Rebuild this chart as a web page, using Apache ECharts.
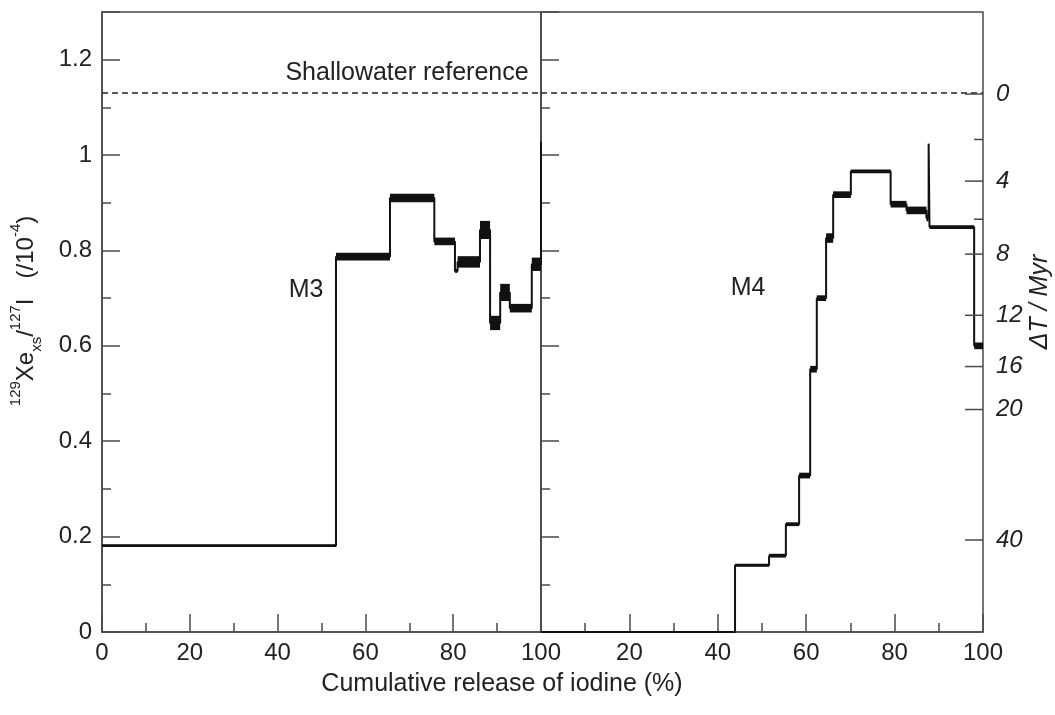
<!DOCTYPE html>
<html>
<head>
<meta charset="utf-8">
<script src="https://cdn.jsdelivr.net/npm/echarts@6/dist/echarts.min.js"></script>
<style>
  html, body { margin: 0; padding: 0; background: #fff; }
  #chart { width: 1055px; height: 715px; }
</style>
</head>
<body>
<div id="chart"></div>
<script>
// Step release spectra: [start of step (% I released), 129Xe/127I (1e-4), half-width of error]
const m3Steps = [
  [0,    0.181, 0.003],
  [53.3, 0.787, 0.008],
  [65.6, 0.910, 0.009],
  [75.7, 0.819, 0.008],
  [80.4, 0.757, 0.004],
  [81.0, 0.776, 0.012],
  [86.1, 0.843, 0.019],
  [88.4, 0.648, 0.015],
  [90.7, 0.712, 0.018],
  [92.9, 0.679, 0.009],
  [97.9, 0.771, 0.014]
];
const m3Final = [100, 1.028];

const m4Steps = [
  [0,    0.000, 0.000],
  [43.9, 0.140, 0.003],
  [51.6, 0.160, 0.004],
  [55.4, 0.226, 0.004],
  [58.4, 0.328, 0.006],
  [60.9, 0.551, 0.007],
  [62.4, 0.700, 0.006],
  [64.5, 0.826, 0.010],
  [66.1, 0.917, 0.007],
  [70.1, 0.966, 0.004],
  [79.1, 0.897, 0.007],
  [82.7, 0.884, 0.008],
  [87.2, 0.868, 0.007],
  [87.7, 1.024, 0.000],
  [87.9, 0.849, 0.004],
  [98.0, 0.600, 0.007]
];
const m4Final = [100, 0.600];

// Shallowater reference ratio and the closure-interval scale derived from it
const shallowaterRatio = 1.128;
const i129HalfLife = 15.7; // Myr
const dtMajorTicks = [0, 4, 8, 12, 16, 20, 40];
const dtMinorTicks = [2, 6];
const xTickLabels = [0, 20, 40, 60, 80, 100];

const FONT = '"Liberation Sans", Arial, Helvetica, sans-serif';
const AXIS_COLOR = '#4a4a4a';
const INK = '#111';
const TICK_FONT = 24;
const TEXT_FONT = 25;

function stepLine(steps, fin) {
  return steps.map(s => [s[0], s[1]]).concat([fin]);
}
function errorBoxes(steps, fin) {
  return steps.map((s, i) => {
    const x1 = i + 1 < steps.length ? steps[i + 1][0] : fin[0];
    return [s[0], x1, s[1], s[2]];
  });
}

const chart = echarts.init(document.getElementById('chart'), null, { renderer: 'canvas' });

function xAxisFor(gridIndex, hideZero) {
  return {
    type: 'value', gridIndex, min: 0, max: 100, interval: 20,
    axisLine: { show: true, lineStyle: { color: AXIS_COLOR, width: 1.5 } },
    axisTick: { show: true, inside: true, length: 18, lineStyle: { color: AXIS_COLOR, width: 1.5 } },
    minorTick: { show: true, splitNumber: 2, length: 9, lineStyle: { color: AXIS_COLOR, width: 1.5 } },
    splitLine: { show: false },
    axisLabel: {
      margin: 9, fontSize: TICK_FONT, fontFamily: FONT, color: '#222',
      formatter: v => (hideZero && v === 0) ? '' : (xTickLabels.includes(v) ? String(v) : '')
    }
  };
}
function yAxisFor(gridIndex, showLabels) {
  return {
    type: 'value', gridIndex, min: 0, max: 1.3, interval: 0.2, position: 'left',
    axisLine: { show: true, lineStyle: { color: AXIS_COLOR, width: 1.5 } },
    axisTick: { show: true, inside: true, length: 18, lineStyle: { color: AXIS_COLOR, width: 1.5 } },
    minorTick: { show: true, splitNumber: 2, length: 9, lineStyle: { color: AXIS_COLOR, width: 1.5 } },
    splitLine: { show: false },
    axisLabel: {
      show: showLabels, margin: 10, fontSize: TICK_FONT, fontFamily: FONT, color: '#222',
      showMaxLabel: false,
      formatter: v => (v > 1.25 ? '' : String(Math.round(v * 10) / 10))
    },
    name: showLabels ? '{sup|129}Xe{sub|xs}/{sup|127}I   (/10{sup|-4})' : '',
    nameLocation: 'middle',
    nameGap: 58,
    nameTextStyle: {
      fontSize: 24, fontFamily: FONT, color: '#222', lineHeight: 36,
      padding: [0, 0, 0, 22],
      rich: {
        sup: { fontSize: 15, fontFamily: FONT, color: '#222', verticalAlign: 'top', lineHeight: 17 },
        sub: { fontSize: 15, fontFamily: FONT, color: '#222', verticalAlign: 'bottom', lineHeight: 17 }
      }
    }
  };
}

function boxSeries(name, xi, yi, boxes) {
  return {
    name, type: 'custom', xAxisIndex: xi, yAxisIndex: yi, data: boxes, z: 4, silent: true,
    encode: { x: [0, 1], y: 2 },
    renderItem: (params, api) => {
      const a = api.coord([api.value(0), api.value(2) + api.value(3)]);
      const b = api.coord([api.value(1), api.value(2) - api.value(3)]);
      const h = b[1] - a[1];
      if (h < 1) return null;
      return { type: 'rect', shape: { x: a[0], y: a[1], width: b[0] - a[0], height: h }, style: { fill: INK } };
    }
  };
}

function lineSeries(name, xi, yi, data) {
  return {
    name, type: 'line', xAxisIndex: xi, yAxisIndex: yi, data, step: 'end',
    symbol: 'none', silent: true, z: 5,
    lineStyle: { color: INK, width: 2 },
    markLine: {
      symbol: 'none', silent: true, animation: false,
      label: { show: false },
      lineStyle: { color: '#222', width: 1.5, type: [6, 4] },
      data: [{ yAxis: shallowaterRatio }]
    }
  };
}

// ΔT scale on the right edge: ratio = R0 * 2^(-ΔT / t½)
const dtTicks = dtMajorTicks.map(t => [t, 1]).concat(dtMinorTicks.map(t => [t, 0]));

const option = {
  animation: false,
  backgroundColor: '#fff',
  grid: [
    { left: 102, top: 12, width: 439, height: 620, show: true, borderColor: AXIS_COLOR, borderWidth: 1.5, backgroundColor: 'transparent' },
    { left: 541, top: 12, width: 442, height: 620, show: true, borderColor: AXIS_COLOR, borderWidth: 1.5, backgroundColor: 'transparent' }
  ],
  xAxis: [xAxisFor(0, false), xAxisFor(1, true)],
  yAxis: [yAxisFor(0, true), yAxisFor(1, false)],
  series: [
    lineSeries('M3', 0, 0, stepLine(m3Steps, m3Final)),
    boxSeries('M3 errors', 0, 0, errorBoxes(m3Steps, m3Final)),
    lineSeries('M4', 1, 1, stepLine(m4Steps, m4Final)),
    boxSeries('M4 errors', 1, 1, errorBoxes(m4Steps, m4Final)),
    {
      name: 'ΔT scale', type: 'custom', xAxisIndex: 1, yAxisIndex: 1, data: dtTicks,
      clip: false, silent: true, z: 6, encode: { x: 0 },
      renderItem: (params, api) => {
        const t = api.value(0), major = api.value(1) === 1;
        const ratio = shallowaterRatio * Math.pow(2, -t / i129HalfLife);
        const p = api.coord([100, ratio]);
        const len = major ? 18 : 9;
        const children = [{
          type: 'line', shape: { x1: p[0], y1: p[1], x2: p[0] - len, y2: p[1] },
          style: { stroke: AXIS_COLOR, lineWidth: 1.5 }
        }];
        if (major) {
          children.push({
            type: 'text', x: p[0] + 13, y: p[1],
            style: { text: String(t), fontSize: TICK_FONT, fontStyle: 'italic', fontFamily: FONT, fill: '#222', align: 'left', verticalAlign: 'middle' }
          });
        }
        return { type: 'group', children };
      }
    }
  ],
  graphic: [
    { type: 'text', x: 407, y: 73, style: { text: 'Shallowater reference', fontSize: TEXT_FONT, fontFamily: FONT, fill: '#222', align: 'center', verticalAlign: 'middle' } },
    { type: 'text', x: 306, y: 290, style: { text: 'M3', fontSize: TEXT_FONT, fontFamily: FONT, fill: '#222', align: 'center', verticalAlign: 'middle' } },
    { type: 'text', x: 748, y: 288, style: { text: 'M4', fontSize: TEXT_FONT, fontFamily: FONT, fill: '#222', align: 'center', verticalAlign: 'middle' } },
    { type: 'text', x: 502, y: 684, style: { text: 'Cumulative release of iodine (%)', fontSize: TEXT_FONT, fontFamily: FONT, fill: '#222', align: 'center', verticalAlign: 'middle' } },
    { type: 'text', x: 1040, y: 302, rotation: Math.PI / 2, style: { text: 'ΔT / Myr', fontSize: TEXT_FONT, fontStyle: 'italic', fontFamily: FONT, fill: '#222', align: 'center', verticalAlign: 'middle' } }
  ]
};

chart.setOption(option);
</script>
</body>
</html>
